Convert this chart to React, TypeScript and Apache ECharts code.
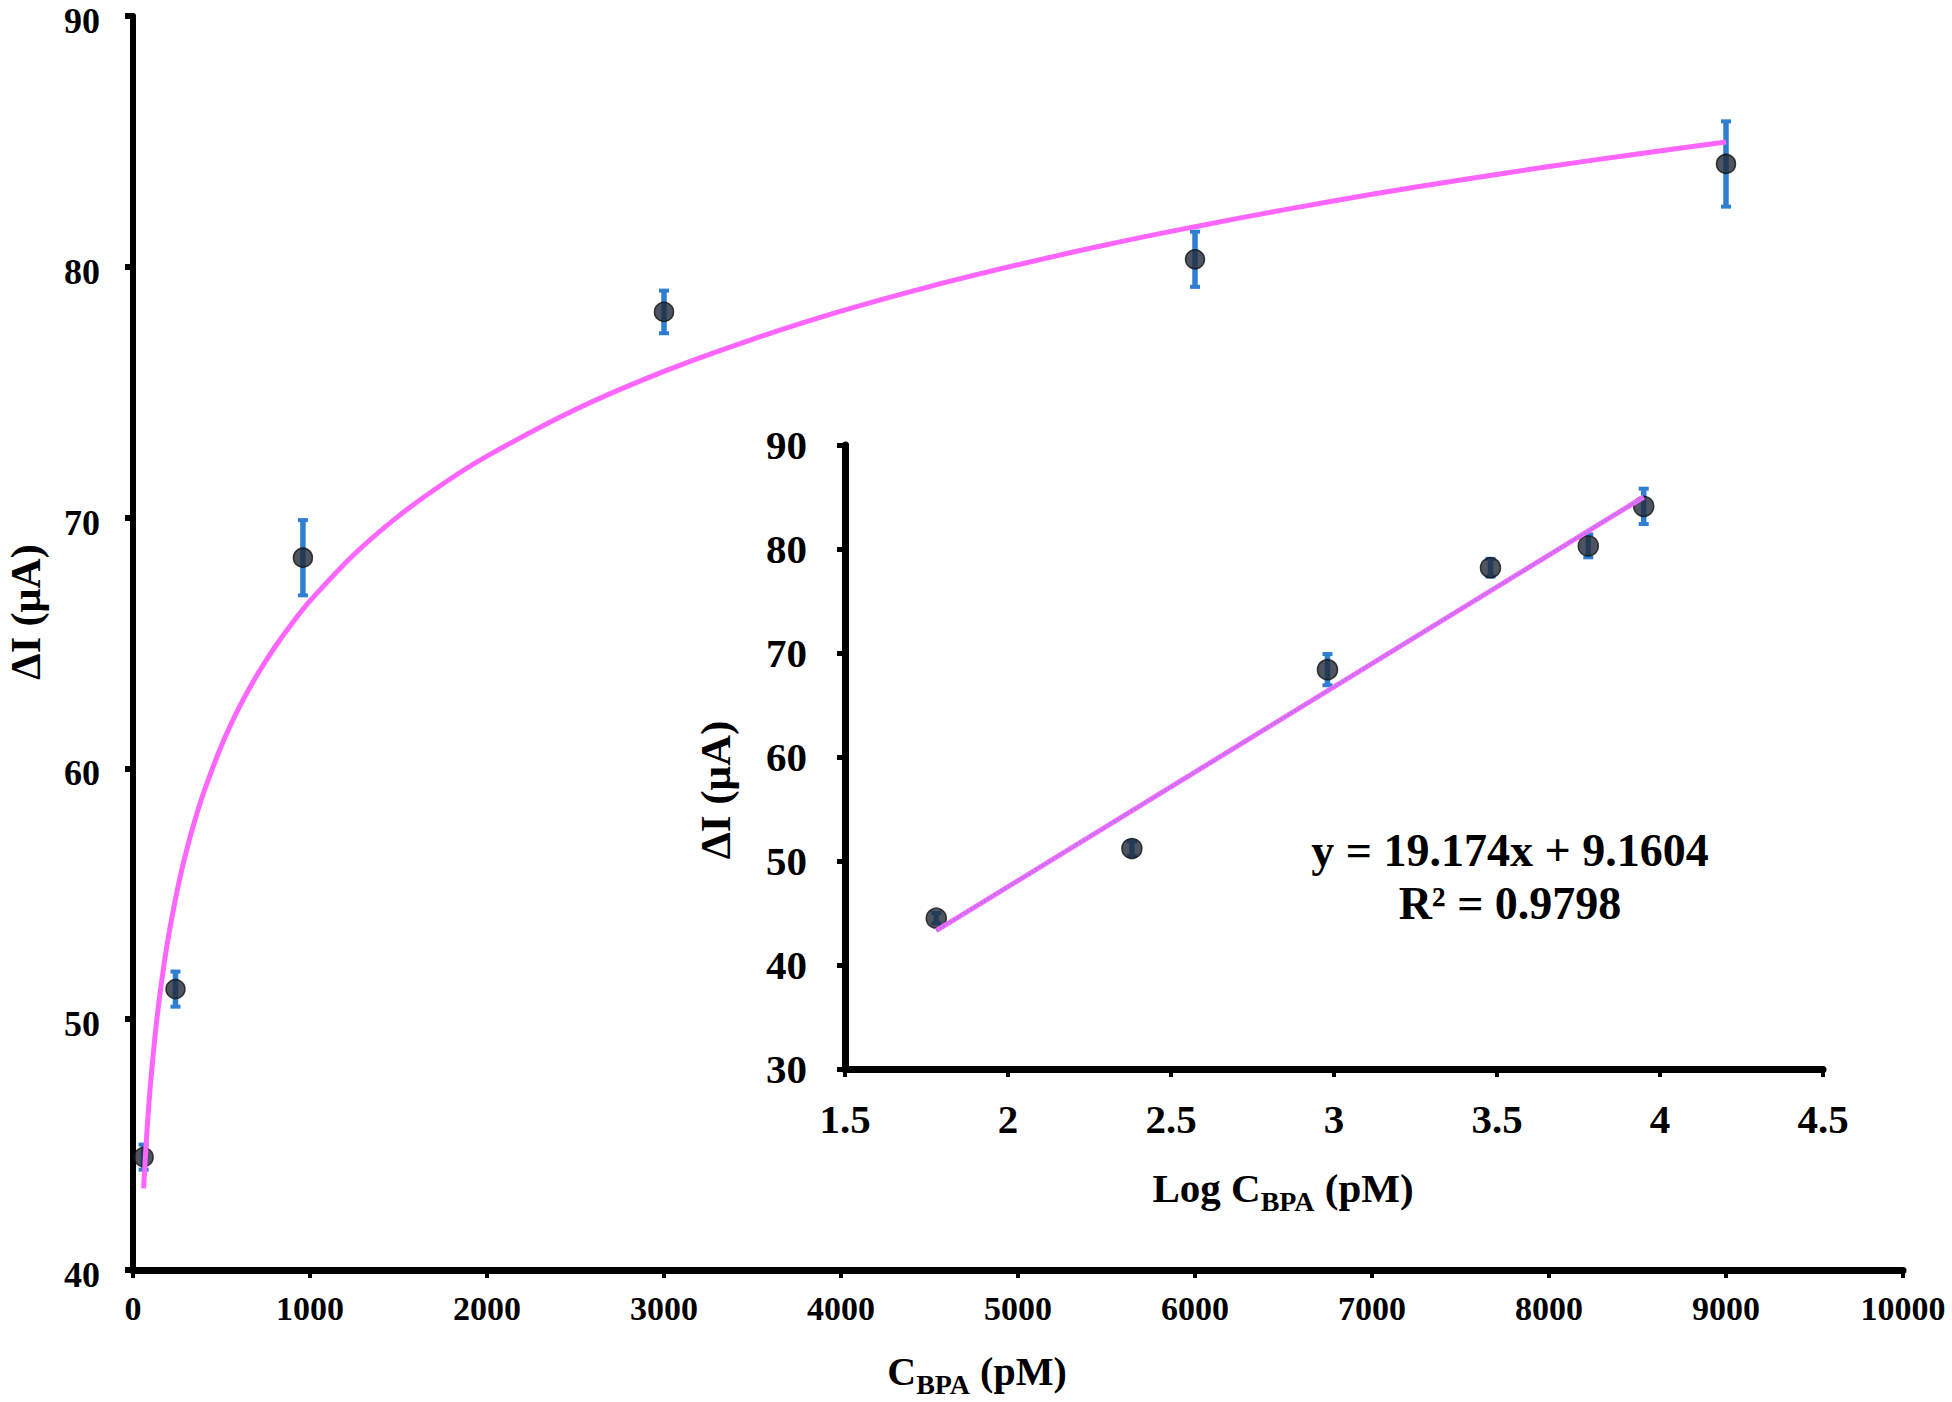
import React, { useEffect, useRef } from 'react';
import * as echarts from 'echarts';

// ---- data ----
const concentrations = [60, 240, 960, 3000, 6000, 9000]; // C_BPA (pM)
const logConcentrations = [1.78, 2.38, 2.98, 3.48, 3.78, 3.95]; // Log C_BPA
const deltaI = [44.5, 51.2, 68.4, 78.2, 80.3, 84.1]; // ΔI (µA)
const errorHalf = [0.5, 0.7, 1.5, 0.85, 1.1, 1.7];

// logarithmic trend curve (main plot)
const fitCurveX = [60, 70, 80, 90, 100, 125, 150, 175, 200, 250, 300, 350, 400, 500, 600, 700, 800, 900, 1000, 1250, 1500, 1750, 2000, 2500, 3000, 3500, 4000, 4500, 5000, 5500, 6000, 6500, 7000, 7500, 8000, 8500, 9000];
const fitCurveY = [43.25, 44.54, 45.65, 46.63, 47.51, 49.37, 50.88, 52.17, 53.28, 55.14, 56.66, 57.94, 59.05, 60.91, 62.43, 63.71, 64.82, 65.8, 66.68, 68.54, 70.06, 71.34, 72.45, 74.31, 75.83, 77.11, 78.23, 79.21, 80.08, 80.88, 81.6, 82.27, 82.89, 83.46, 84.0, 84.5, 84.98];

// linear trend line (inset)
const linearFitX = [1.78, 3.95];
const linearFitY = [43.3, 85.0];

const equationText = 'y = 19.174x + 9.1604';
const r2Text = 'R² = 0.9798';

const FONT = "'Liberation Serif', 'Times New Roman', serif";
const BLACK = '#000000';
const PINK = '#ff66ff';
const ERR_BLUE = '#2e7fd1';
const MARKER = '#222b38';

function errorRenderItem(params: any, api: any) {
  const x = api.value(0);
  const y = api.value(1);
  const e = api.value(2);
  const top = api.coord([x, y + e]);
  const bot = api.coord([x, y - e]);
  const cap = 5;
  return {
    type: 'group',
    children: [
      { type: 'line', shape: { x1: top[0], y1: top[1], x2: bot[0], y2: bot[1] }, style: { stroke: ERR_BLUE, lineWidth: 5.5 } },
      { type: 'line', shape: { x1: top[0] - cap, y1: top[1], x2: top[0] + cap, y2: top[1] }, style: { stroke: ERR_BLUE, lineWidth: 4 } },
      { type: 'line', shape: { x1: bot[0] - cap, y1: bot[1], x2: bot[0] + cap, y2: bot[1] }, style: { stroke: ERR_BLUE, lineWidth: 4 } },
    ],
  };
}

function valueAxis(opts: any) {
  const label: any = {
    show: true,
    margin: opts.margin,
    color: BLACK,
    fontFamily: FONT,
    fontWeight: 'bold',
    fontSize: opts.fontSize,
    lineHeight: Math.round(opts.fontSize * 0.85),
    formatter: (v: number) => String(v),
  };
  if (opts.labelTop) {
    label.verticalAlign = 'top';
    label.lineHeight = 10;
  }
  return {
    type: 'value',
    gridIndex: opts.grid,
    min: opts.min,
    max: opts.max,
    interval: opts.interval,
    axisLine: { show: true, onZero: false, lineStyle: { color: BLACK, width: opts.lineWidth } },
    axisTick: { show: true, inside: false, length: opts.tickLen, lineStyle: { color: BLACK, width: opts.tickWidth } },
    axisLabel: label,
    splitLine: { show: false },
  };
}

function titleText(x: number, y: number, text: string, size: number, subSize: number, rotation = 0) {
  return {
    type: 'text',
    x,
    y,
    rotation,
    z: 10,
    style: {
      text,
      fill: BLACK,
      align: 'center',
      verticalAlign: 'middle',
      textAlign: 'center',
      textVerticalAlign: 'middle',
      fontFamily: FONT,
      fontWeight: 'bold',
      fontSize: size,
      rich: {
        a: { fontFamily: FONT, fontWeight: 'bold', fontSize: size, fill: BLACK, color: BLACK, lineHeight: 30 },
        b: { fontFamily: FONT, fontWeight: 'bold', fontSize: subSize, fill: BLACK, color: BLACK, lineHeight: 22, padding: [26, 0, 0, 0] },
      },
    },
  };
}

export default function App() {
  const ref = useRef<HTMLDivElement>(null);

  useEffect(() => {
    if (!ref.current) return;
    const chart = echarts.init(ref.current, undefined, { renderer: 'svg' });

    const mainPoints = concentrations.map((c, i) => [c, deltaI[i]]);
    const mainErr = concentrations.map((c, i) => [c, deltaI[i], errorHalf[i]]);
    const insetPoints = logConcentrations.map((c, i) => [c, deltaI[i]]);
    const insetErr = logConcentrations.map((c, i) => [c, deltaI[i], errorHalf[i]]);
    const curve = fitCurveX.map((x, i) => [x, fitCurveY[i]]);
    const line = linearFitX.map((x, i) => [x, linearFitY[i]]);

    chart.setOption({
      animation: false,
      backgroundColor: '#ffffff',
      grid: [
        { left: 133, top: 16, width: 1770, height: 1254, containLabel: false },
        { left: 845, top: 445, width: 978, height: 624, containLabel: false },
      ],
      xAxis: [
        valueAxis({ grid: 0, min: 0, max: 10000, interval: 1000, lineWidth: 7, tickLen: 8, tickWidth: 4, margin: 24, fontSize: 34 }),
        valueAxis({ grid: 1, min: 1.5, max: 4.5, interval: 0.5, lineWidth: 7, tickLen: 8, tickWidth: 4, margin: 32, fontSize: 41 }),
      ],
      yAxis: [
        valueAxis({ grid: 0, min: 40, max: 90, interval: 10, lineWidth: 6, tickLen: 8, tickWidth: 6, margin: 33, fontSize: 36, labelTop: true }),
        valueAxis({ grid: 1, min: 30, max: 90, interval: 10, lineWidth: 7, tickLen: 8, tickWidth: 5, margin: 38, fontSize: 41 }),
      ],
      series: [
        {
          type: 'custom', xAxisIndex: 0, yAxisIndex: 0, z: 2,
          renderItem: errorRenderItem, encode: { x: 0, y: 1 }, data: mainErr, silent: true,
        },
        {
          type: 'scatter', xAxisIndex: 0, yAxisIndex: 0, z: 3,
          symbol: 'circle', symbolSize: 19, data: mainPoints,
          itemStyle: { color: MARKER, borderColor: '#111111', borderWidth: 1.5 },
        },
        {
          type: 'line', xAxisIndex: 0, yAxisIndex: 0, z: 4,
          data: curve, smooth: 0.3, showSymbol: false, symbol: 'none',
          lineStyle: { color: PINK, width: 5 },
        },
        {
          type: 'custom', xAxisIndex: 1, yAxisIndex: 1, z: 2,
          renderItem: errorRenderItem, encode: { x: 0, y: 1 }, data: insetErr, silent: true,
        },
        {
          type: 'scatter', xAxisIndex: 1, yAxisIndex: 1, z: 3,
          symbol: 'circle', symbolSize: 20, data: insetPoints,
          itemStyle: { color: MARKER, borderColor: '#111111', borderWidth: 1.5 },
        },
        {
          type: 'line', xAxisIndex: 1, yAxisIndex: 1, z: 4,
          data: line, showSymbol: false, symbol: 'none',
          lineStyle: { color: PINK, width: 5 },
        },
        {
          type: 'line', xAxisIndex: 1, yAxisIndex: 1, z: 5,
          data: line, showSymbol: false, symbol: 'none',
          lineStyle: { color: '#8a84e6', width: 2, type: 'dotted' },
        },
      ],
      graphic: [
        titleText(26, 612, '{a|ΔI (μA)}', 42, 30, Math.PI / 2),
        titleText(715, 790, '{a|ΔI (μA)}', 43, 30, Math.PI / 2),
        titleText(977, 1371, '{a|C}{b|BPA}{a| (pM)}', 40, 28),
        titleText(1283, 1188, '{a|Log C}{b|BPA}{a| (pM)}', 41, 28),
        {
          type: 'text', x: 1510, y: 850, z: 10,
          style: { text: equationText, fill: BLACK, align: 'center', verticalAlign: 'middle', textAlign: 'center', textVerticalAlign: 'middle', fontFamily: FONT, fontWeight: 'bold', fontSize: 46 },
        },
        {
          type: 'text', x: 1510, y: 903, z: 10,
          style: { text: r2Text, fill: BLACK, align: 'center', verticalAlign: 'middle', textAlign: 'center', textVerticalAlign: 'middle', fontFamily: FONT, fontWeight: 'bold', fontSize: 46 },
        },
      ],
    });

    return () => {
      chart.dispose();
    };
  }, []);

  return (
    <div
      ref={ref}
      style={{ position: 'absolute', left: 0, top: 0, width: 1952, height: 1402, background: '#ffffff' }}
    />
  );
}
